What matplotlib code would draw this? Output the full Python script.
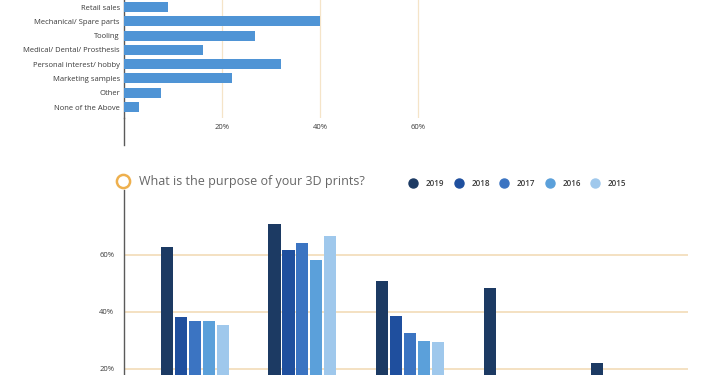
import matplotlib
matplotlib.use("Agg")
import numpy as np
import matplotlib.pyplot as plt
from matplotlib.lines import Line2D

plt.rcParams["font.family"] = ["Open Sans", "DejaVu Sans"]

# top chart: horizontal bars (percent)
uses = ["Retail sales", "Mechanical/ Spare parts", "Tooling", "Medical/ Dental/ Prosthesis",
        "Personal interest/ hobby", "Marketing samples", "Other", "None of the Above"]
use_pct = [9, 40, 26.7, 16, 32, 22, 7.5, 3]
top_ticks = [20, 40, 60]

# bottom chart: grouped bars by year (percent), groups 4 and 5 only read for 2019
years = ["2019", "2018", "2017", "2016", "2015"]
v2019 = [62.8, 70.9, 50.9, 48.4, 22.1]
v2018 = [38.2, 61.8, 38.6, np.nan, np.nan]
v2017 = [36.8, 64.2, 32.6, np.nan, np.nan]
v2016 = [36.7, 58.2, 29.8, np.nan, np.nan]
v2015 = [35.4, 66.7, 29.5, np.nan, np.nan]
year_colors = ["#1c3a63", "#1f4f9e", "#3b74c2", "#5ba0da", "#9fc8ec"]
bottom_ticks = [0, 20, 40, 60]

W, H = 710, 375
fig = plt.figure(figsize=(W / 100, H / 100), dpi=100)
fig.patch.set_facecolor("white")

def fx(px): return px / W
def fy(py): return 1 - py / H

grid_c = "#f2dcb8"
axis_c = "#5a5a5a"
txt_c = "#3a3a3a"

# ---- top chart
ax1 = fig.add_axes([fx(124), fy(118), fx(600) - fx(124), fy(-8) - fy(118)])
y = np.arange(len(uses))
ax1.barh(y, use_pct, height=0.7, color="#4f94d5", zorder=3)
ax1.set_xlim(0, 97)
ax1.set_ylim(7.77, -1.05)
ax1.set_yticks(y, uses)
ax1.set_xticks(top_ticks, [f"{t}%" for t in top_ticks])
ax1.tick_params(axis="y", length=0, pad=3, labelsize=5.5, labelcolor=txt_c)
ax1.tick_params(axis="x", length=0, pad=4, labelsize=5.5, labelcolor=txt_c)
ax1.grid(axis="x", color="#f5e4c8", lw=0.9, zorder=0)
for s in ["top", "right", "bottom"]:
    ax1.spines[s].set_visible(False)
ax1.spines["left"].set_color(axis_c)
ax1.spines["left"].set_linewidth(1.0)
fig.add_artist(Line2D([fx(124), fx(124)], [fy(118), fy(145)], color=axis_c, lw=1.0,
                      transform=fig.transFigure))

# ---- bottom chart
ax2 = fig.add_axes([fx(124), fy(426), fx(688) - fx(124), fy(190) - fy(426)])
series = [v2019, v2018, v2017, v2016, v2015]
g = np.arange(len(v2019))
step, bw = 0.13, 0.112
for j, (vals, col) in enumerate(zip(series, year_colors)):
    ax2.bar(g + (j - 2) * step, vals, width=bw, color=col, zorder=3)
ax2.set_xlim(-0.66, 4.586)
ax2.set_ylim(0, 82.8)
ax2.set_xticks([])
ax2.set_yticks(bottom_ticks, [f"{t}%" for t in bottom_ticks])
ax2.tick_params(axis="y", length=0, pad=7, labelsize=5.5, labelcolor=txt_c)
ax2.grid(axis="y", color=grid_c, lw=1.2, zorder=0)
for s in ["top", "right", "bottom"]:
    ax2.spines[s].set_visible(False)
ax2.spines["left"].set_color(axis_c)
ax2.spines["left"].set_linewidth(1.0)

# title with ring marker
fig.add_artist(Line2D([fx(123)], [fy(181)], marker="o", markersize=9.5, mfc="white",
                      mec="#eeb04e", mew=1.8, transform=fig.transFigure))
fig.text(fx(139), fy(181), "What is the purpose of your 3D prints?", fontsize=9,
         color="#666666", va="center", ha="left")

# legend
for k, (yr, col) in enumerate(zip(years, year_colors)):
    x0 = 413 + k * 45.5
    fig.add_artist(Line2D([fx(x0)], [fy(183)], marker="o", markersize=6.5, mfc=col, mec=col,
                          transform=fig.transFigure))
    fig.text(fx(x0 + 13), fy(183), yr, fontsize=5.8, color=txt_c, va="center", ha="left",
             fontweight="semibold")

fig.savefig("out.png", dpi=100)
